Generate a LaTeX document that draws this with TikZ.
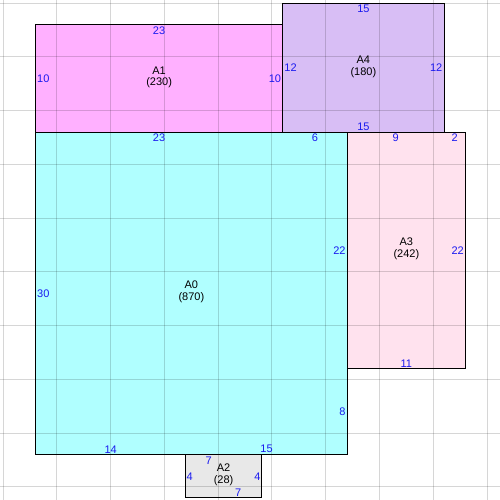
\documentclass[tikz,border=0pt]{standalone}
\usepackage{fontspec}
\setmainfont{Liberation Sans}
\definecolor{fillzero}{HTML}{B0FFFF}
\definecolor{fillone}{HTML}{FFB0FF}
\definecolor{filltwo}{HTML}{E8E8E8}
\definecolor{fillthree}{HTML}{FFE2EE}
\definecolor{fillfour}{HTML}{D8BEF5}
\definecolor{sideblue}{HTML}{1A1AF0}
\tikzset{
	room/.style={draw=black, line width=1pt},
	gridline/.style={draw=black, draw opacity=0.16, line width=1pt},
	side/.style={text=sideblue, inner sep=1.5pt, font=\fontsize{11}{12}\selectfont},
	tag/.style={align=center, inner sep=0pt, font=\fontsize{11}{11.5}\selectfont}
}

\begin{document}
\begin{tikzpicture}[x=10.75pt, y=-10.75pt]
		\useasboundingbox (-0.3,-0.3) rectangle (46.21,46.21);
		% Room corners.
		\coordinate (a0nw) at (3,12);
		\coordinate (a0se) at (32,42);
		\coordinate (a1nw) at (3,2);
		\coordinate (a1se) at (26,12);
		\coordinate (a2nw) at (17,42);
		\coordinate (a2se) at (24,46);
		\coordinate (a3nw) at (32,12);
		\coordinate (a3se) at (43,34);
		\coordinate (a4nw) at (26,0);
		\coordinate (a4se) at (41,12);
		% Fill rooms.
		\fill[fillzero] (a0nw) rectangle (a0se);
		\fill[fillone] (a1nw) rectangle (a1se);
		\fill[filltwo] (a2nw) rectangle (a2se);
		\fill[fillthree] (a3nw) rectangle (a3se);
		\fill[fillfour] (a4nw) rectangle (a4se);
		% Draw grid.
		\foreach \k in {0,5,...,45} {
			\draw[gridline] (\k,-0.3) -- (\k,46.21);
			\draw[gridline] (-0.3,\k) -- (46.21,\k);
		}
		% Draw walls.
		\draw[room] (a0nw) rectangle (a0se);
		\draw[room] (a1nw) rectangle (a1se);
		\draw[room] (a2nw) rectangle (a2se);
		\draw[room] (a3nw) rectangle (a3se);
		\draw[room] (a4nw) rectangle (a4se);
		% Room names.
		\node[tag] (a0) at (17.5,26.85) {A0\\(870)};
		\node[tag] (a1) at (14.5,6.9) {A1\\(230)};
		\node[tag] (a2) at (20.5,43.85) {A2\\(28)};
		\node[tag] (a3) at (37.5,22.85) {A3\\(242)};
		\node[tag] (a4) at (33.5,5.9) {A4\\(180)};
		% Side lengths.
		\node[side, below] (a0n1) at (14.5,12) {23};
		\node[side, below] (a0n2) at (29,12) {6};
		\node[side, right] (a0w) at (3,27) {30};
		\node[side, left] (a0e1) at (32,23) {22};
		\node[side, left] (a0e2) at (32,38) {8};
		\node[side, above] (a0s1) at (10,42) {14};
		\node[side, above] (a0s2) at (24.5,42) {15};
		\node[side, below] (a1n) at (14.5,2) {23};
		\node[side, right] (a1w) at (3,7) {10};
		\node[side, left] (a1e) at (26,7) {10};
		\node[side, below] (a2n) at (19.1,42) {7};
		\node[side, above] (a2s) at (21.85,46) {7};
		\node[side, right, inner sep=0.5pt] (a2w) at (17,44) {4};
		\node[side, left, inner sep=0.5pt] (a2e) at (24,44) {4};
		\node[side, below] (a3n1) at (36.5,12) {9};
		\node[side, below] (a3n2) at (42,12) {2};
		\node[side, left] (a3e) at (43,23) {22};
		\node[side, above] (a3s) at (37.5,34) {11};
		\node[side, below] (a4n) at (33.5,0) {15};
		\node[side, right] (a4w) at (26,6) {12};
		\node[side, left] (a4e) at (41,6) {12};
		\node[side, above] (a4s) at (33.5,12) {15};
	\end{tikzpicture}
\end{document}
